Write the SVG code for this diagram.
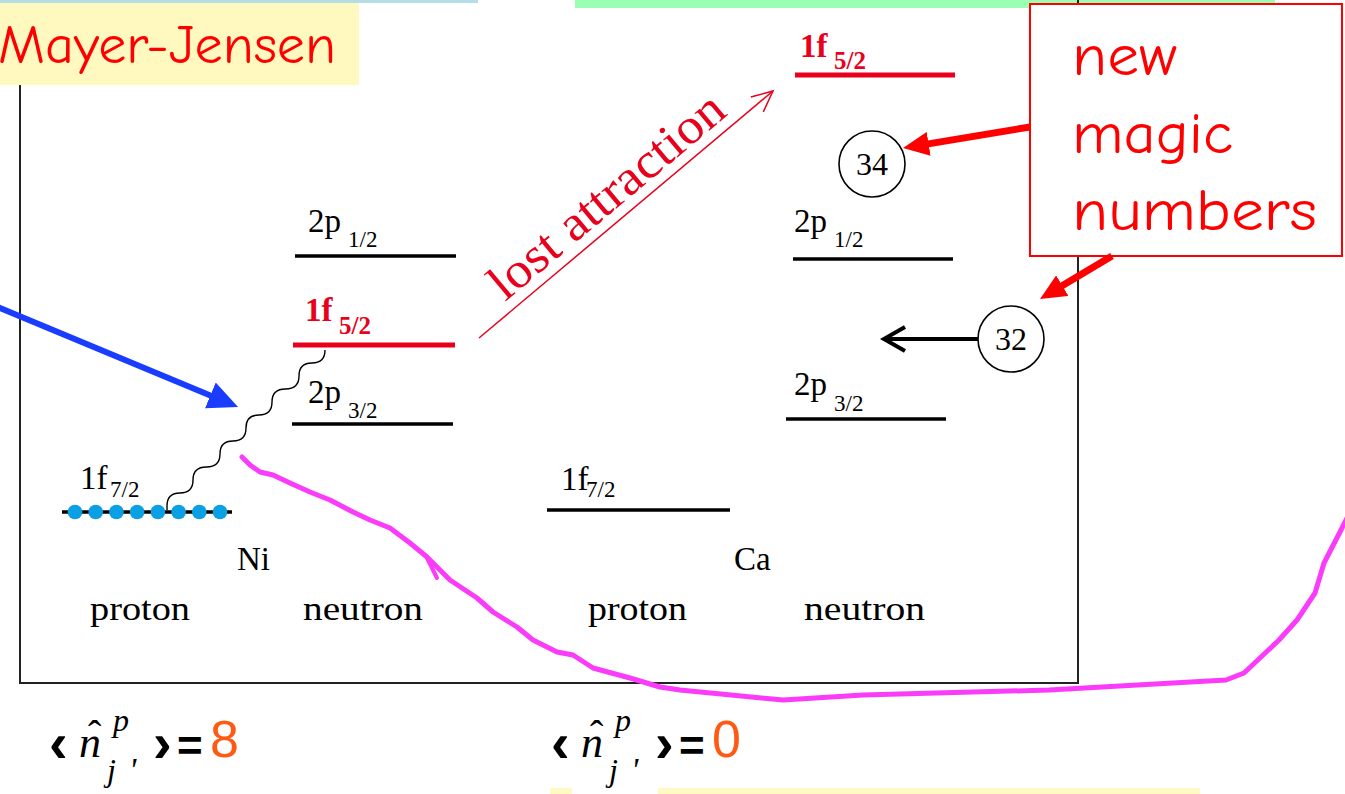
<svg xmlns="http://www.w3.org/2000/svg" width="1345" height="794" viewBox="0 0 1345 794">
<defs>
<style>
.lvl{stroke:#000;stroke-width:3.5;fill:none}
.lvlr{stroke:#e8001c;stroke-width:5;fill:none}
.cm{font-family:"Liberation Serif","DejaVu Serif",serif;fill:#000}
.lab{font-size:33px}
.sub{font-size:23px}
.redlab{fill:#e8001c;font-weight:bold}
.redsub{font-size:25px}
.comic{font-family:"Comic Sans MS","Comic Neue","DejaVu Sans",sans-serif;fill:#ff0000}
.circ{fill:#fff;stroke:#000;stroke-width:1.6}
.num{font-size:32px;text-anchor:middle}
.redarrow{stroke:#ff0000;stroke-width:7;fill:none}
.fm{font-family:"Liberation Sans","DejaVu Sans",sans-serif;font-weight:bold;fill:#000}
.fi{font-family:"Liberation Serif","DejaVu Serif",serif;font-style:italic;fill:#000}
.orange{font-family:"Liberation Sans","DejaVu Sans",sans-serif;fill:#ff5a14;font-size:52px}
.word{font-size:33px}
</style>
<marker id="redHead" viewBox="0 0 26 24" refX="11" refY="12" markerWidth="26" markerHeight="24" markerUnits="userSpaceOnUse" orient="auto">
<path d="M0,0 L26,12 L0,24 z" fill="#ff0000"/>
</marker>
<marker id="blueHead" viewBox="0 0 30 28" refX="15" refY="14" markerWidth="30" markerHeight="28" markerUnits="userSpaceOnUse" orient="auto">
<path d="M0,0 L30,14 L0,28 z" fill="#1a3cff"/>
</marker>
</defs>

<rect width="1345" height="794" fill="#fff"/>

<g id="background">
<rect x="0" y="0" width="478" height="3" fill="#b5dde8"/>
<rect x="575" y="0" width="700" height="8" fill="#99ffb3"/>
<rect x="550" y="788" width="22" height="6" fill="#fff9c4"/>
<rect x="658" y="788" width="542" height="6" fill="#fff9c4"/>
<path d="M20,85 V683 H1078 V0" fill="none" stroke="#222" stroke-width="2"/>
</g>

<g id="title">
<rect x="0" y="3" width="359" height="82" fill="#fff9c0"/>
<text class="comic" x="-2" y="63" font-size="55" textLength="338" lengthAdjust="spacingAndGlyphs">Mayer-Jensen</text>
</g>

<g id="ni-proton-1f72">
<line x1="62" y1="512" x2="232" y2="512" class="lvl" stroke-width="3"/>
<g fill="#0b9fe3">
<circle cx="75" cy="512" r="7.3"/><circle cx="95.7" cy="512" r="7.3"/><circle cx="116.4" cy="512" r="7.3"/><circle cx="137.1" cy="512" r="7.3"/>
<circle cx="157.9" cy="512" r="7.3"/><circle cx="178.6" cy="512" r="7.3"/><circle cx="199.3" cy="512" r="7.3"/><circle cx="220" cy="512" r="7.3"/>
</g>
<text class="cm lab" x="80" y="489">1f</text><text class="cm sub" x="110" y="497">7/2</text>
</g>

<g id="ni-neutron-2p12">
<line x1="295" y1="256" x2="456" y2="256" class="lvl"/>
<text class="cm lab" x="308" y="232">2p</text><text class="cm sub" x="348" y="247">1/2</text>
</g>
<g id="ni-neutron-1f52">
<line x1="293" y1="345" x2="455" y2="345" class="lvlr"/>
<text class="cm lab redlab" x="305" y="321">1f</text><text class="cm redsub redlab" x="339" y="334">5/2</text>
</g>
<g id="ni-neutron-2p32">
<line x1="292" y1="424" x2="453" y2="424" class="lvl"/>
<text class="cm lab" x="308" y="403">2p</text><text class="cm sub" x="348" y="418">3/2</text>
</g>

<g id="ni-labels">
<text class="cm word" x="237" y="570">Ni</text>
<text class="cm word" x="90" y="620" textLength="100" lengthAdjust="spacingAndGlyphs">proton</text>
<text class="cm word" x="303" y="620" textLength="120" lengthAdjust="spacingAndGlyphs">neutron</text>
</g>

<g id="ca-proton-1f72">
<line x1="547" y1="510" x2="730" y2="510" class="lvl"/>
<text class="cm lab" x="561" y="490">1f</text><text class="cm sub" x="586" y="497">7/2</text>
</g>
<g id="ca-neutron-1f52">
<line x1="795" y1="75" x2="955" y2="75" class="lvlr"/>
<text class="cm lab redlab" x="800" y="57">1f</text><text class="cm redsub redlab" x="834" y="69">5/2</text>
</g>
<g id="ca-neutron-2p12">
<line x1="793" y1="259" x2="953" y2="259" class="lvl"/>
<text class="cm lab" x="794" y="232">2p</text><text class="cm sub" x="834" y="247">1/2</text>
</g>
<g id="ca-neutron-2p32">
<line x1="786" y1="419" x2="946" y2="419" class="lvl"/>
<text class="cm lab" x="794" y="395">2p</text><text class="cm sub" x="834" y="411">3/2</text>
</g>
<g id="ca-labels">
<text class="cm word" x="734" y="570">Ca</text>
<text class="cm word" x="588" y="620" textLength="99" lengthAdjust="spacingAndGlyphs">proton</text>
<text class="cm word" x="804" y="620" textLength="121" lengthAdjust="spacingAndGlyphs">neutron</text>
</g>

<g id="magic-34">
<circle cx="872" cy="164" r="33" class="circ"/>
<text class="cm num" x="872" y="175">34</text>
</g>
<g id="magic-32">
<circle cx="1011" cy="339" r="33" class="circ"/>
<text class="cm num" x="1011" y="350">32</text>
</g>

<g id="new-magic-box">
<rect x="1030" y="4" width="312" height="252" fill="#fff" stroke="#ff0000" stroke-width="2"/>
<text class="comic" font-size="58" x="1072" y="75" textLength="105" lengthAdjust="spacingAndGlyphs">new</text>
<text class="comic" font-size="58" x="1072" y="153" textLength="161" lengthAdjust="spacingAndGlyphs">magic</text>
<text class="comic" font-size="58" x="1072" y="230" textLength="245" lengthAdjust="spacingAndGlyphs">numbers</text>
</g>

<g id="lost-attraction-label">
<text class="cm" font-size="50" style="fill:#e8001c" transform="translate(505,302) rotate(-40)" textLength="292" lengthAdjust="spacingAndGlyphs">lost attraction</text>
</g>

<g id="connectors">
<path d="M167,510 L167,506 Q167,493 180,493 Q193,493 193,480 Q193,467 206.5,467 Q220,467 220,454 Q220,441 233,441 Q246,441 246,428 Q246,415 259,415 Q272,415 272,402 Q272,389 285.5,389 Q299,389 299,376 Q299,363 312,363 Q325,363 325,350" fill="none" stroke="#000" stroke-width="1.4"/>
<line x1="479" y1="338" x2="773" y2="91" stroke="#e8001c" stroke-width="1.5"/>
<polyline points="750.8,97 773,91 763.3,111.9" fill="none" stroke="#e8001c" stroke-width="1.5"/>
<line x1="978" y1="339" x2="886" y2="339" stroke="#000" stroke-width="4"/>
<polyline points="905,327 884,339 905,351" fill="none" stroke="#000" stroke-width="4"/>
<line x1="1030" y1="127" x2="917.8" y2="145.6" class="redarrow" marker-end="url(#redHead)"/>
<line x1="1112" y1="256" x2="1052.9" y2="291.3" class="redarrow" marker-end="url(#redHead)"/>
<line x1="-5" y1="306" x2="224.2" y2="401.2" stroke="#1a3cff" stroke-width="6" marker-end="url(#blueHead)"/>
<polyline points="242,457 250,465 260,472 273,475 290,483 310,492 330,500 353,512 370,520 390,528 410,543 427,557 450,580 477,598 493,612 517,627 533,640 557,652 573,655 593,668 630,678 660,687 680,690 783,700 863,695 1049,690 1226,680 1244,673 1279,640 1297,620 1315,593 1324,563 1341,530 1348,516" fill="none" stroke="#fa3cfa" stroke-width="5" stroke-linejoin="round" stroke-linecap="round"/>
<path d="M427,558 L437,578" fill="none" stroke="#fa3cfa" stroke-width="4" stroke-linecap="round"/>
</g>

<g id="formula-ni">
<text class="fm" font-size="56" x="49" y="762">‹</text>
<text class="fi" font-size="44" x="79" y="757">n<tspan class="cm" style="font-style:normal" font-size="40" x="88" y="748">ˆ</tspan></text>
<text class="fi" font-size="32" x="113" y="731">p</text>
<text class="fi" font-size="32" x="107" y="781">j<tspan font-size="34" x="129" y="781">'</tspan></text>
<text class="fm" font-size="56" x="153" y="762">›</text>
<text class="fm" font-size="44" x="177" y="761">=</text>
<text class="orange" x="210" y="757">8</text>
</g>

<g id="formula-ca">
<text class="fm" font-size="56" x="551" y="762">‹</text>
<text class="fi" font-size="44" x="581" y="757">n<tspan class="cm" style="font-style:normal" font-size="40" x="590" y="748">ˆ</tspan></text>
<text class="fi" font-size="32" x="615" y="731">p</text>
<text class="fi" font-size="32" x="609" y="781">j<tspan font-size="34" x="631" y="781">'</tspan></text>
<text class="fm" font-size="56" x="655" y="762">›</text>
<text class="fm" font-size="44" x="679" y="761">=</text>
<text class="orange" x="712" y="757">0</text>
</g>
</svg>
